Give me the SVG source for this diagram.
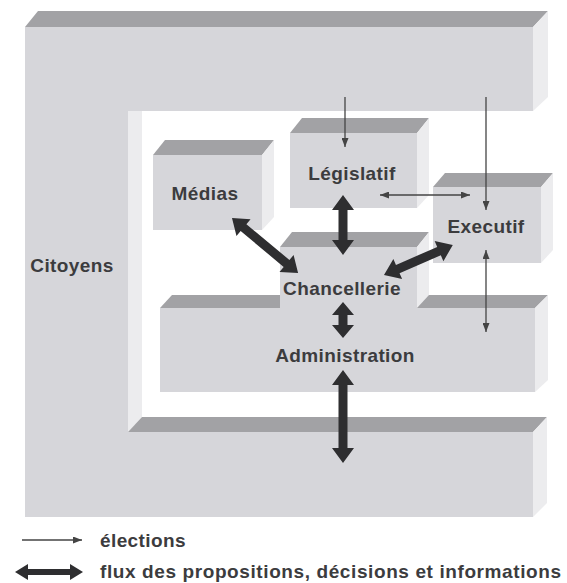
<svg xmlns="http://www.w3.org/2000/svg" width="567" height="583" viewBox="0 0 567 583">
<defs>
<style>
.front{fill:#d6d6da}
.top{fill:#a2a2a5}
.side{fill:#ececee}
.lbl{font-family:"Liberation Sans",Arial,sans-serif;font-weight:bold;font-size:19px;fill:#3c3c3e;letter-spacing:0.4px}
.thin{stroke:#444;stroke-width:1.3;fill:none}
.thick{fill:#2e2e30}
</style>
<marker id="ah" viewBox="0 0 9 7" refX="9" refY="3.5" markerWidth="9" markerHeight="7" markerUnits="userSpaceOnUse" orient="auto-start-reverse">
<path d="M0,0 L9,3.5 L0,7 z" fill="#444"/>
</marker>
</defs>
<rect width="567" height="583" fill="#fff"/>

<g id="citoyens">
<polygon class="top" points="25,27 38,11 548,11 533,27"/>
<polygon class="side" points="533,27 548,11 548,97 533,111"/>
<polygon class="side" points="128,111 142,111 142,417 128,432"/>
<polygon class="top" points="128,432 142,417 547,417 533,432"/>
<polygon class="side" points="533,432 547,417 547,503 533,517"/>
<path class="front" d="M25,27 H533 V111 H128 V432 H533 V517 H25 Z"/>
<text class="lbl" x="72" y="272" text-anchor="middle">Citoyens</text>
</g>

<g id="medias">
<polygon class="top" points="153,155 165,140 274,140 262,155"/>
<polygon class="side" points="262,155 274,140 274,217 262,230"/>
<rect class="front" x="153" y="155" width="109" height="75"/>
<text class="lbl" x="205" y="200" text-anchor="middle">Médias</text>
</g>

<g id="legislatif">
<polygon class="top" points="290,133 302,118 429,118 417,133"/>
<polygon class="side" points="417,133 429,118 429,195 417,208"/>
<rect class="front" x="290" y="133" width="127" height="75"/>
<text class="lbl" x="352" y="180" text-anchor="middle">Législatif</text>
</g>

<g id="executif">
<polygon class="top" points="433,187 445,173 553,173 541,187"/>
<polygon class="side" points="541,187 553,173 553,250 541,263"/>
<rect class="front" x="433" y="187" width="108" height="76"/>
<text class="lbl" x="486" y="233" text-anchor="middle">Executif</text>
</g>

<g id="administration">
<polygon class="top" points="160,308 172,295 548,295 535,308"/>
<polygon class="side" points="535,308 548,295 548,380 535,392"/>
<rect class="front" x="160" y="308" width="375" height="84"/>
<text class="lbl" x="345" y="362" text-anchor="middle">Administration</text>
</g>

<g id="chancellerie">
<polygon class="top" points="280,247 292,232 429,232 417,247"/>
<polygon class="side" points="417,247 429,232 429,295 417,308"/>
<rect class="front" x="280" y="247" width="137" height="62"/>
<text class="lbl" x="342" y="295" text-anchor="middle">Chancellerie</text>
</g>

<g id="connectors">
<line class="thin" x1="345" y1="97" x2="345" y2="147" marker-end="url(#ah)"/>
<line class="thin" x1="486" y1="97" x2="486" y2="210" marker-end="url(#ah)"/>
<line class="thin" x1="380" y1="195" x2="470" y2="195" marker-start="url(#ah)" marker-end="url(#ah)"/>
<line class="thin" x1="486" y1="250" x2="486" y2="332" marker-start="url(#ah)" marker-end="url(#ah)"/>
<!-- Législatif <-> Chancellerie -->
<polygon class="thick" points="343,195 354,210 347.5,210 347.5,240 354,240 343,255 332,240 338.5,240 338.5,210 332,210"/>
<!-- Chancellerie <-> Administration -->
<polygon class="thick" points="343,302 354,315 347.5,315 347.5,325 354,325 343,338 332,325 338.5,325 338.5,315 332,315"/>
<!-- Administration <-> bottom -->
<polygon class="thick" points="343,370 354,385 347.5,385 347.5,448 354,448 343,463 332,448 338.5,448 338.5,385 332,385"/>
<!-- Médias <-> Chancellerie -->
<polygon class="thick" transform="translate(232,218) rotate(39.8)" points="0,0 15,-11 15,-4.5 71,-4.5 71,-11 86,0 71,11 71,4.5 15,4.5 15,11"/>
<!-- Executif <-> Chancellerie -->
<polygon class="thick" transform="translate(384,275) rotate(-23.5)" points="0,0 15,-11 15,-4.5 60,-4.5 60,-11 75,0 60,11 60,4.5 15,4.5 15,11"/>
</g>

<g id="legend">
<line class="thin" x1="22" y1="540" x2="82" y2="540" marker-end="url(#ah)"/>
<text class="lbl" x="100" y="547">élections</text>
<polygon class="thick" points="15,572 28,564 28,569 70,569 70,564 83,572 70,580 70,575 28,575 28,580"/>
<text class="lbl" x="100" y="578" style="letter-spacing:0.6px">flux des propositions, décisions et informations</text>
</g>
</svg>
